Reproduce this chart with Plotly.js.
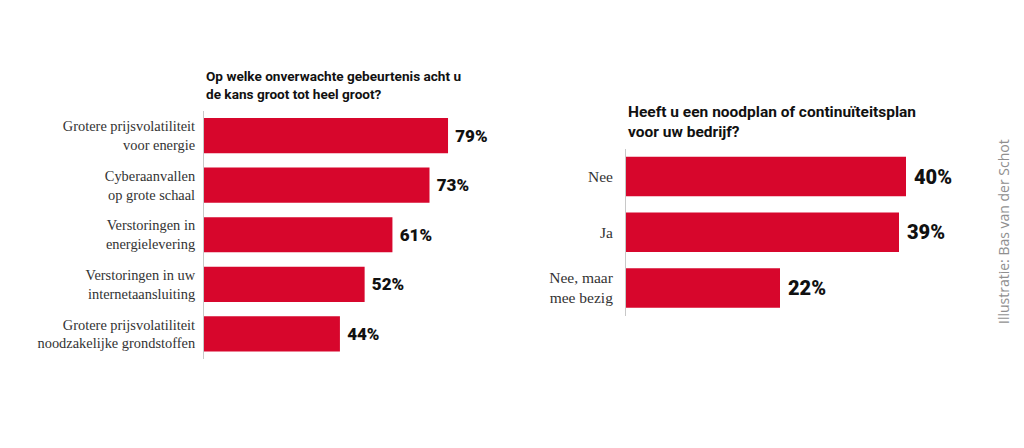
<!DOCTYPE html>
<html>
<head>
<meta charset="utf-8">
<script src="https://cdn.plot.ly/plotly-3.0.1.min.js"></script>
<style>
html,body{margin:0;padding:0;background:#fff;}
#chart{width:1024px;height:448px;}
</style>
</head>
<body>
<div id="chart"></div>
<script>
const leftTitle = "Op welke onverwachte gebeurtenis acht u<br>de kans groot tot heel groot?";
const leftCategories = [
  "Grotere prijsvolatiliteit<br>voor energie",
  "Cyberaanvallen<br>op grote schaal",
  "Verstoringen in<br>energielevering",
  "Verstoringen in uw<br>internetaansluiting",
  "Grotere prijsvolatiliteit<br>noodzakelijke grondstoffen"
];
const leftValues = [79, 73, 61, 52, 44];

const rightTitle = "Heeft u een noodplan of continuïteitsplan<br>voor uw bedrijf?";
const rightCategories = ["Nee", "Ja", "Nee, maar<br>mee bezig"];
const rightValues = [40, 39, 22];

const credit = "Illustratie: Bas van der Schot";

const RED = "#d7062c";
const W = 1024, H = 448;

const traces = [
  {
    type: "bar", orientation: "h",
    x: leftValues, y: leftCategories,
    xaxis: "x", yaxis: "y",
    marker: {color: RED},
    text: leftValues.map(v => " " + v + "%"),
    textposition: "outside",
    textfont: {family: "Roboto", size: 17, color: "#111", weight: 900},
    cliponaxis: false,
    hoverinfo: "skip"
  },
  {
    type: "bar", orientation: "h",
    x: rightValues, y: rightCategories,
    xaxis: "x2", yaxis: "y2",
    marker: {color: RED},
    text: rightValues.map(v => " " + v + "%"),
    textposition: "outside",
    textfont: {family: "Roboto", size: 20, color: "#111", weight: 900},
    cliponaxis: false,
    hoverinfo: "skip"
  }
];

const layout = {
  width: W, height: H,
  margin: {l: 0, r: 0, t: 0, b: 0},
  paper_bgcolor: "#fff", plot_bgcolor: "#fff",
  showlegend: false,
  bargap: 0.29,
  xaxis: {
    domain: [204 / W, (204 + 100 * 3.089) / W],
    range: [0, 100], visible: false, fixedrange: true
  },
  yaxis: {
    domain: [1 - 358.75 / H, 1 - 110.75 / H],
    autorange: "reversed",
    showline: true, linecolor: "#c8c8c8", linewidth: 1,
    showgrid: false, zeroline: false,
    ticks: "", ticklabelstandoff: 5,
    tickfont: {family: "Liberation Serif", size: 14.4, color: "#333"}
  },
  xaxis2: {
    domain: [626 / W, (626 + 50 * 7) / W],
    range: [0, 50], visible: false, fixedrange: true
  },
  yaxis2: {
    anchor: "x2",
    domain: [1 - 315.75 / H, 1 - 148.75 / H],
    autorange: "reversed",
    showline: true, linecolor: "#c8c8c8", linewidth: 1,
    showgrid: false, zeroline: false,
    ticks: "", ticklabelstandoff: 9,
    tickfont: {family: "Liberation Serif", size: 15.5, color: "#333"}
  },
  annotations: [
    {
      xref: "paper", yref: "paper",
      x: 204 / W, y: 1 - 66 / H, xanchor: "left", yanchor: "top",
      align: "left", showarrow: false,
      text: "<b>" + leftTitle + "</b>",
      font: {family: "Roboto", size: 13.6, color: "#111", weight: 900}
    },
    {
      xref: "paper", yref: "paper",
      x: 626 / W, y: 1 - 101 / H, xanchor: "left", yanchor: "top",
      align: "left", showarrow: false,
      text: "<b>" + rightTitle + "</b>",
      font: {family: "Roboto", size: 15.5, color: "#111", weight: 900}
    },
    {
      xref: "paper", yref: "paper",
      x: 1003 / W, y: 1 - 232 / H, xanchor: "center", yanchor: "middle",
      textangle: -90, showarrow: false,
      text: credit,
      font: {family: "Open Sans", size: 14, color: "#8f8f8f"}
    }
  ]
};

Plotly.newPlot("chart", traces, layout, {staticPlot: true, displayModeBar: false});
</script>
</body>
</html>
